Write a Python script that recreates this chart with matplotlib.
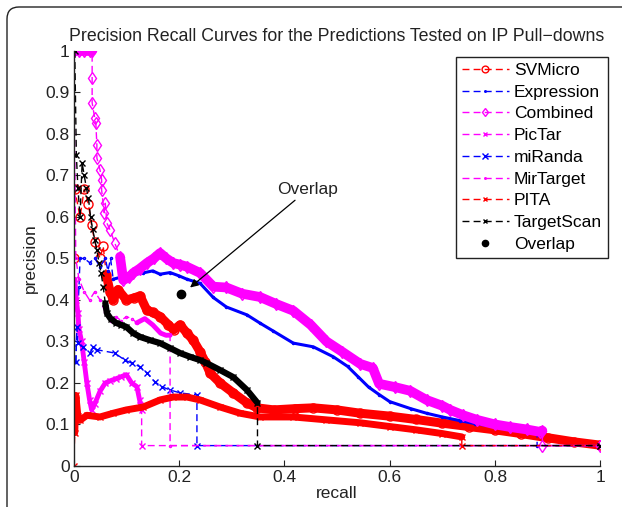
import matplotlib
matplotlib.use("Agg")
import matplotlib.pyplot as plt
from matplotlib.patches import FancyBboxPatch
from matplotlib.transforms import IdentityTransform

plt.rcParams['font.family'] = ['Liberation Sans', 'DejaVu Sans']

# ---- data ----
svm_r = [0.0, 0.002, 0.012, 0.02, 0.028, 0.034, 0.04, 0.05, 0.056, 0.062, 0.069, 0.075, 0.084, 0.1, 0.115,
         0.126, 0.139, 0.15, 0.164, 0.18, 0.19, 0.202, 0.215, 0.227, 0.24, 0.25, 0.259, 0.278, 0.303, 0.329,
         0.348, 0.38, 0.42, 0.455, 0.5, 0.544, 0.6, 0.65, 0.7, 0.75, 0.8, 0.85, 0.9, 0.95, 1.0]
svm_p = [0.5, 0.667, 0.6, 0.667, 0.63, 0.58, 0.54, 0.5, 0.53, 0.46, 0.42, 0.4, 0.425, 0.4, 0.405,
         0.41, 0.375, 0.37, 0.36, 0.34, 0.328, 0.34, 0.32, 0.303, 0.275, 0.25, 0.224, 0.2, 0.176, 0.152,
         0.14, 0.135, 0.138, 0.14, 0.135, 0.127, 0.12, 0.112, 0.103, 0.095, 0.087, 0.078, 0.068, 0.058, 0.05]

expr_r = [0.004, 0.006, 0.01, 0.012, 0.02, 0.03, 0.04, 0.05, 0.06, 0.065, 0.07, 0.075, 0.09, 0.11, 0.131,
          0.15, 0.164, 0.183, 0.2, 0.215, 0.24, 0.265, 0.29, 0.329, 0.354, 0.379, 0.417, 0.455, 0.493,
          0.52, 0.54, 0.56, 0.58, 0.6, 0.64, 0.67, 0.7, 0.734, 0.762, 0.8, 0.85, 0.88, 0.88, 1.0]
expr_p = [0.25, 0.33, 0.43, 0.5, 0.5, 0.49, 0.5, 0.48, 0.5, 0.47, 0.5, 0.45, 0.455, 0.46, 0.465,
          0.47, 0.462, 0.466, 0.458, 0.45, 0.44, 0.406, 0.383, 0.364, 0.344, 0.325, 0.296, 0.287, 0.263,
          0.24, 0.215, 0.19, 0.172, 0.155, 0.138, 0.127, 0.118, 0.109, 0.102, 0.095, 0.088, 0.085, 0.049, 0.049]

comb_r = [0.0, 0.01, 0.02, 0.03, 0.035, 0.035, 0.035, 0.04, 0.042, 0.044, 0.044, 0.05, 0.053, 0.053, 0.058,
          0.06, 0.063, 0.069, 0.078, 0.088, 0.094, 0.105, 0.113, 0.125, 0.139, 0.152, 0.164, 0.176, 0.189,
          0.202, 0.215, 0.24, 0.265, 0.29, 0.32, 0.354, 0.385, 0.417, 0.45, 0.48, 0.51, 0.544, 0.568, 0.58,
          0.61, 0.639, 0.67, 0.7, 0.715, 0.74, 0.766, 0.8, 0.828, 0.86, 0.886, 0.89, 0.89, 1.0]
comb_p = [1.0, 1.0, 1.0, 1.0, 1.0, 0.935, 0.875, 0.838, 0.827, 0.773, 0.742, 0.713, 0.69, 0.665, 0.61,
          0.633, 0.585, 0.569, 0.537, 0.504, 0.448, 0.455, 0.465, 0.475, 0.489, 0.5, 0.513, 0.5, 0.489,
          0.485, 0.48, 0.465, 0.432, 0.43, 0.415, 0.407, 0.39, 0.374, 0.34, 0.3, 0.275, 0.246, 0.236, 0.198,
          0.19, 0.181, 0.159, 0.145, 0.135, 0.122, 0.111, 0.1, 0.094, 0.088, 0.082, 0.085, 0.049, 0.049]

pictar_r = [0.002, 0.005, 0.008, 0.01, 0.015, 0.02, 0.025, 0.03, 0.034, 0.04, 0.05, 0.06, 0.069, 0.08,
            0.09, 0.1, 0.11, 0.12, 0.125, 0.129, 0.129, 1.0]
pictar_p = [0.45, 0.4, 0.368, 0.33, 0.3, 0.25, 0.2, 0.16, 0.135, 0.15, 0.18, 0.2, 0.205, 0.21,
            0.215, 0.22, 0.2, 0.191, 0.16, 0.135, 0.049, 0.049]

miranda_r = [0.004, 0.006, 0.008, 0.017, 0.031, 0.037, 0.044, 0.078, 0.097, 0.11, 0.126, 0.139, 0.154,
             0.167, 0.183, 0.202, 0.234, 0.234, 1.0]
miranda_p = [0.25, 0.335, 0.296, 0.287, 0.272, 0.287, 0.28, 0.272, 0.255, 0.248, 0.239, 0.224, 0.203,
             0.191, 0.183, 0.176, 0.171, 0.049, 0.049]

mirt_r = [0.0, 0.004, 0.01, 0.02, 0.03, 0.04, 0.05, 0.06, 0.07, 0.08, 0.09, 0.1, 0.11, 0.12, 0.135,
          0.15, 0.165, 0.175, 0.183, 0.183, 1.0]
mirt_p = [1.0, 0.5, 0.45, 0.42, 0.4, 0.42, 0.4, 0.37, 0.35, 0.36, 0.35, 0.36, 0.355, 0.345, 0.355,
          0.34, 0.32, 0.315, 0.315, 0.049, 0.049]

pita_r = [0.0, 0.002, 0.004, 0.008, 0.012, 0.025, 0.05, 0.075, 0.1, 0.132, 0.164, 0.189, 0.215, 0.24,
          0.278, 0.316, 0.354, 0.417, 0.48, 0.544, 0.6, 0.65, 0.7, 0.737, 0.737, 1.0]
pita_p = [0.0, 0.08, 0.17, 0.12, 0.11, 0.122, 0.118, 0.127, 0.135, 0.142, 0.159, 0.166, 0.166, 0.159,
          0.142, 0.127, 0.118, 0.118, 0.111, 0.104, 0.095, 0.087, 0.078, 0.07, 0.049, 0.049]

ts_r = [0.002, 0.005, 0.008, 0.012, 0.016, 0.02, 0.024, 0.028, 0.032, 0.036, 0.04, 0.044, 0.048, 0.052,
        0.056, 0.06, 0.063, 0.07, 0.08, 0.09, 0.1, 0.113, 0.126, 0.145, 0.164, 0.183, 0.202, 0.221, 0.24,
        0.252, 0.278, 0.303, 0.329, 0.349, 0.349, 1.0]
ts_p = [1.0, 0.75, 0.67, 0.6, 0.73, 0.7, 0.67, 0.645, 0.6, 0.57, 0.545, 0.52, 0.49, 0.465,
        0.432, 0.392, 0.368, 0.355, 0.345, 0.34, 0.335, 0.32, 0.311, 0.303, 0.296, 0.284, 0.272, 0.263, 0.255,
        0.248, 0.231, 0.214, 0.183, 0.152, 0.049, 0.049]

overlap_r = [0.203]
overlap_p = [0.414]

xticks = [0, 0.2, 0.4, 0.6, 0.8, 1]
xtick_labels = ['0', '0.2', '0.4', '0.6', '0.8', '1']
yticks = [0, 0.1, 0.2, 0.3, 0.4, 0.5, 0.6, 0.7, 0.8, 0.9, 1]
ytick_labels = ['0', '0.1', '0.2', '0.3', '0.4', '0.5', '0.6', '0.7', '0.8', '0.9', '1']

# (label, recall, precision, color, marker, markersize, band width, dense index ranges)
series = [
    ('SVMicro',    svm_r,     svm_p,     '#ff0000', 'o', 6.5, 6.5, [(9, 45)]),
    ('Expression', expr_r,    expr_p,    '#0000ff', '.', 3.0, 2.2, [(11, 42)]),
    ('Combined',   comb_r,    comb_p,    '#ff00ff', 'd', 6.0, 7.0, [(0, 5), (19, 56)]),
    ('PicTar',     pictar_r,  pictar_p,  '#ff00ff', 'x', 4.0, 3.5, [(0, 20)]),
    ('miRanda',    miranda_r, miranda_p, '#0000ff', 'x', 5.0, 0.0, []),
    ('MirTarget',  mirt_r,    mirt_p,    '#ff00ff', '.', 3.0, 3.5, [(13, 19)]),
    ('PITA',       pita_r,    pita_p,    '#ff0000', 'x', 4.0, 5.0, [(1, 24)]),
    ('TargetScan', ts_r,      ts_p,      '#000000', 'x', 4.0, 4.5, [(15, 34)]),
]

fig = plt.figure(figsize=(6.22, 5.07), dpi=100)
ax = fig.add_axes([0.1185, 0.081, 0.8466, 0.8185])

for label, r, p, color, marker, ms, band, ranges in series:
    for a, b in ranges:
        ax.plot(r[a:b], p[a:b], color=color, lw=band, solid_joinstyle='round',
                solid_capstyle='round', label='_nolegend_')
    ax.plot(r, p, color=color, ls='--', dashes=(5, 3), lw=1.0, marker=marker, ms=ms,
            mfc='none', mec=color, mew=1.0, label=label)

ax.plot(overlap_r, overlap_p, 'o', color='k', ms=6, label='Overlap')

ax.annotate('Overlap', xy=(0.221, 0.43), xytext=(0.386, 0.665),
            ha='left', va='center', fontsize=12.5, color='#222222',
            arrowprops=dict(arrowstyle='-|>', color='k', lw=0.9,
                            mutation_scale=12, shrinkA=0, shrinkB=0))

ax.set_xlim(0, 1)
ax.set_ylim(0, 1)
ax.set_xticks(xticks)
ax.set_xticklabels(xtick_labels)
ax.set_yticks(yticks)
ax.set_yticklabels(ytick_labels)
ax.tick_params(direction='in', length=4, labelsize=12.5, colors='#222222', pad=3)
ax.spines['top'].set_visible(False)
ax.spines['right'].set_visible(False)
for s in ('left', 'bottom'):
    ax.spines[s].set_color('#222222')
    ax.spines[s].set_linewidth(1.0)

ax.set_xlabel('recall', fontsize=12.5, color='#222222', labelpad=1)
ax.set_ylabel('precision', fontsize=12.5, color='#222222', labelpad=5)
ax.set_title('Precision Recall Curves for the Predictions Tested on IP Pull\u2212downs',
             fontsize=12.8, color='#222222', pad=7)

leg = ax.legend(loc='upper right', bbox_to_anchor=(1.015, 0.986), borderaxespad=0,
                fontsize=12.5, fancybox=False, framealpha=1, edgecolor='#222222',
                handlelength=2.7, labelspacing=0.38, handletextpad=0.3, borderpad=0.35,
                markerscale=0.75)
leg.get_frame().set_linewidth(1.0)

# rounded journal frame (top and left edges only)
frame = FancyBboxPatch((7, -60), 800, 560, boxstyle='round,pad=0,rounding_size=12',
                       transform=IdentityTransform(), fill=False, edgecolor='#222222', lw=1.0)
fig.patches.append(frame)

fig.savefig('out.png', dpi=100)
